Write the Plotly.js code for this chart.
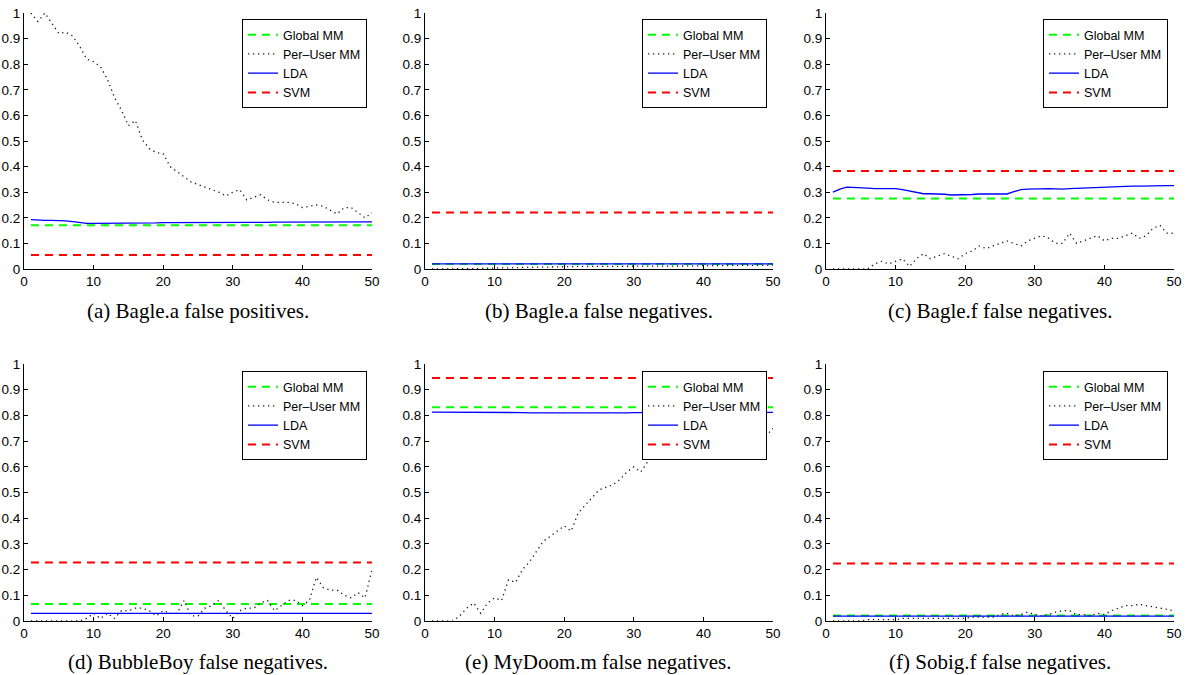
<!DOCTYPE html>
<html>
<head>
<meta charset="utf-8">
<script src="https://cdn.plot.ly/plotly-3.0.1.min.js"></script>
<style>html,body{margin:0;padding:0;background:#fff;}#chart{width:1187px;height:675px;}</style>
</head>
<body>
<div id="chart"></div>
<script>
// ---- data ----
const runs = [1,2,3,4,5,6,7,8,9,10,11,12,13,14,15,16,17,18,19,20,21,22,23,24,25,26,27,28,29,30,31,32,33,34,35,36,37,38,39,40,41,42,43,44,45,46,47,48,49,50];
const seriesNames = ["Global MM", "Per\u2013User MM", "LDA", "SVM"];
const captions = ["(a) Bagle.a false positives.", "(b) Bagle.a false negatives.", "(c) Bagle.f false negatives.",
                  "(d) BubbleBoy false negatives.", "(e) MyDoom.m false negatives.", "(f) Sobig.f false negatives."];
const xTicks = [0,10,20,30,40,50];
const yTicks = [0,0.1,0.2,0.3,0.4,0.5,0.6,0.7,0.8,0.9,1];

// constant-rate methods, one value per panel
const globalMM = [0.171, 0.020, 0.275, 0.066, 0.832, 0.021];
const svm      = [0.055, 0.221, 0.383, 0.228, 0.946, 0.224];

// per-user MM, one array per panel
const perUserA = [1.00,0.967,1.00,0.96,0.92,0.925,0.91,0.87,0.82,0.81,
                  0.79,0.74,0.67,0.62,0.56,0.58,0.505,0.47,0.455,0.45,
                  0.40,0.38,0.36,0.34,0.33,0.32,0.31,0.30,0.285,0.30,
                  0.31,0.27,0.28,0.29,0.27,0.26,0.26,0.26,0.255,0.24,
                  0.245,0.25,0.245,0.23,0.215,0.24,0.24,0.22,0.20,0.22];
const perUserB = [0,0,0,0,0,0,0.002,0.002,0.003,0.004,
                  0.004,0.005,0.005,0.006,0.006,0.007,0.007,0.008,0.008,0.009,
                  0.01,0.01,0.01,0.01,0.01,0.01,0.01,0.01,0.011,0.011,
                  0.011,0.011,0.011,0.012,0.012,0.012,0.012,0.012,0.012,0.013,
                  0.013,0.013,0.013,0.013,0.014,0.014,0.014,0.014,0.015,0.015];
const perUserC = [0,0,0,0,0,0,0.02,0.03,0.02,0.03,
                  0.04,0.01,0.04,0.06,0.04,0.05,0.06,0.05,0.04,0.06,
                  0.07,0.09,0.08,0.09,0.10,0.11,0.10,0.09,0.11,0.12,
                  0.13,0.12,0.10,0.10,0.14,0.10,0.11,0.12,0.13,0.11,
                  0.12,0.12,0.13,0.14,0.12,0.13,0.16,0.17,0.14,0.14];
const perUserD = [0,0,0,0,0,0,0,0,0.01,0.03,
                  0.01,0.03,0.01,0.04,0.04,0.05,0.05,0.04,0.02,0.04,
                  0.03,0.03,0.08,0.02,0.02,0.05,0.06,0.08,0.04,0.01,
                  0.04,0.05,0.05,0.07,0.08,0.04,0.06,0.08,0.08,0.06,
                  0.08,0.17,0.13,0.12,0.12,0.10,0.09,0.11,0.09,0.20];
const perUserE = [0,0,0,0,0.02,0.05,0.07,0.03,0.07,0.09,
                  0.08,0.16,0.15,0.20,0.23,0.27,0.31,0.33,0.35,0.37,
                  0.35,0.42,0.45,0.48,0.51,0.52,0.53,0.55,0.58,0.60,
                  0.58,0.62,0.65,0.64,0.65,0.66,0.66,0.66,0.67,0.68,
                  0.69,0.71,0.70,0.69,0.70,0.71,0.71,0.71,0.72,0.75];
const perUserF = [0,0,0,0,0,0.005,0.005,0.005,0.005,0.005,
                  0.01,0.01,0.01,0.01,0.01,0.01,0.01,0.01,0.01,0.01,
                  0.015,0.015,0.015,0.015,0.025,0.03,0.02,0.025,0.035,0.025,
                  0.02,0.025,0.035,0.04,0.04,0.025,0.025,0.02,0.03,0.025,
                  0.04,0.05,0.06,0.06,0.065,0.06,0.055,0.05,0.045,0.04];

// LDA, one array per panel
const ldaA = [0.193,0.191,0.190,0.190,0.190,0.188,0.185,0.181,0.178,0.178,
              0.178,0.179,0.179,0.179,0.179,0.179,0.180,0.180,0.180,0.181,
              0.181,0.181,0.180,0.180,0.180,0.181,0.181,0.181,0.181,0.181,
              0.181,0.182,0.182,0.182,0.182,0.183,0.183,0.183,0.183,0.183,
              0.183,0.183,0.183,0.183,0.184,0.184,0.184,0.184,0.184,0.184];
const ldaB = [0.020,0.020,0.020,0.020,0.020,0.020,0.020,0.020,0.020,0.020,
              0.020,0.020,0.020,0.020,0.020,0.020,0.020,0.020,0.020,0.020,
              0.020,0.020,0.020,0.020,0.020,0.020,0.020,0.020,0.020,0.020,
              0.020,0.020,0.020,0.020,0.020,0.020,0.020,0.020,0.020,0.020,
              0.020,0.020,0.020,0.020,0.020,0.020,0.020,0.020,0.020,0.020];
const ldaC = [0.300,0.312,0.320,0.319,0.319,0.316,0.314,0.314,0.316,0.314,
              0.310,0.305,0.300,0.294,0.294,0.294,0.292,0.289,0.289,0.290,
              0.291,0.293,0.293,0.293,0.293,0.293,0.302,0.310,0.312,0.313,
              0.313,0.314,0.313,0.312,0.314,0.315,0.317,0.319,0.320,0.322,
              0.322,0.323,0.323,0.324,0.324,0.325,0.325,0.325,0.326,0.326];
const ldaD = [0.030,0.030,0.030,0.030,0.030,0.030,0.030,0.030,0.030,0.030,
              0.030,0.030,0.030,0.030,0.030,0.030,0.030,0.030,0.030,0.030,
              0.030,0.030,0.030,0.030,0.030,0.030,0.030,0.030,0.030,0.030,
              0.030,0.030,0.030,0.030,0.030,0.030,0.030,0.030,0.030,0.030,
              0.030,0.030,0.030,0.030,0.030,0.030,0.030,0.030,0.030,0.030];
const ldaE = [0.813,0.813,0.813,0.812,0.812,0.812,0.812,0.812,0.813,0.812,
              0.812,0.811,0.811,0.811,0.810,0.810,0.809,0.808,0.808,0.808,
              0.808,0.808,0.808,0.809,0.809,0.809,0.810,0.810,0.810,0.811,
              0.811,0.811,0.811,0.811,0.811,0.811,0.811,0.811,0.811,0.811,
              0.811,0.811,0.811,0.811,0.811,0.812,0.812,0.812,0.812,0.812];
const ldaF = [0.019,0.019,0.019,0.019,0.019,0.019,0.019,0.019,0.019,0.019,
              0.019,0.019,0.019,0.019,0.019,0.019,0.019,0.019,0.019,0.019,
              0.019,0.019,0.019,0.019,0.019,0.019,0.019,0.019,0.019,0.019,
              0.019,0.019,0.019,0.019,0.019,0.019,0.019,0.019,0.019,0.019,
              0.019,0.019,0.019,0.019,0.019,0.019,0.019,0.019,0.019,0.019];

const perUser = [perUserA, perUserB, perUserC, perUserD, perUserE, perUserF];
const lda = [ldaA, ldaB, ldaC, ldaD, ldaE, ldaF];

// ---- layout geometry (pixels of the 1187x675 page) ----
const W = 1187, H = 675;
const colX = [[24,372],[425,773],[826,1174]];
const rowY = [[13,269],[364,621]];
const legendRight = [367, 767, 1168];
const legendTop = [19, 371];
const captionY = [311, 662];

const traces = [];
const layout = {
  width: W, height: H,
  margin: {l:0, r:0, t:0, b:0},
  paper_bgcolor: '#ffffff', plot_bgcolor: '#ffffff',
  font: {family: 'Liberation Sans, Arial, sans-serif', color: '#000', size: 13.5},
  showlegend: true,
  annotations: []
};

for (let p = 0; p < 6; p++) {
  const col = p % 3, row = Math.floor(p / 3);
  const n = p + 1;
  const xa = 'xaxis' + (n === 1 ? '' : n), ya = 'yaxis' + (n === 1 ? '' : n);
  const xr = 'x' + (n === 1 ? '' : n), yr = 'y' + (n === 1 ? '' : n);
  const lg = 'legend' + (n === 1 ? '' : n);
  const axCommon = {
    showgrid: false, zeroline: false, showline: true, linecolor: '#000', linewidth: 1,
    ticks: 'inside', ticklen: 4, tickcolor: '#000', tickwidth: 1, mirror: false,
    tickfont: {family: 'Liberation Sans, Arial, sans-serif', size: 13.5, color: '#000'},
    fixedrange: true
  };
  layout[xa] = Object.assign({}, axCommon, {
    domain: [colX[col][0] / W, colX[col][1] / W], anchor: yr, range: [0, 50],
    tickmode: 'array', tickvals: xTicks, ticktext: xTicks.map(String)
  });
  layout[ya] = Object.assign({}, axCommon, {
    domain: [1 - rowY[row][1] / H, 1 - rowY[row][0] / H], anchor: xr, range: [0, 1],
    tickmode: 'array', tickvals: yTicks, ticktext: yTicks.map(String)
  });
  layout[lg] = {
    x: legendRight[col] / W, y: 1 - legendTop[row] / H, xanchor: 'right', yanchor: 'top',
    xref: 'paper', yref: 'paper',
    bgcolor: '#ffffff', bordercolor: '#000', borderwidth: 1,
    font: {family: 'Liberation Sans, Arial, sans-serif', size: 12.5, color: '#000'},
    traceorder: 'normal', tracegroupgap: 0
  };
  const base = {type: 'scatter', mode: 'lines', xaxis: xr, yaxis: yr, legend: lg, hoverinfo: 'skip'};
  traces.push(Object.assign({}, base, {
    name: seriesNames[0], x: [runs[0], runs[runs.length-1]], y: [globalMM[p], globalMM[p]],
    line: {color: '#00ff00', width: 2, dash: '8px,6px'}
  }));
  traces.push(Object.assign({}, base, {
    name: seriesNames[1], x: runs, y: perUser[p],
    line: {color: '#1a1a1a', width: 1.3, dash: '1.3px,3.7px'}
  }));
  traces.push(Object.assign({}, base, {
    name: seriesNames[2], x: runs, y: lda[p],
    line: {color: '#0000ff', width: 1.3}
  }));
  traces.push(Object.assign({}, base, {
    name: seriesNames[3], x: [runs[0], runs[runs.length-1]], y: [svm[p], svm[p]],
    line: {color: '#ff0000', width: 2, dash: '8px,6px'}
  }));
  layout.annotations.push({
    text: captions[p], xref: 'paper', yref: 'paper',
    x: (colX[col][0] + colX[col][1]) / 2 / W, y: 1 - captionY[row] / H,
    xanchor: 'center', yanchor: 'middle', showarrow: false,
    font: {family: 'Liberation Serif, Times New Roman, serif', size: 21, color: '#000'}
  });
}

Plotly.newPlot('chart', traces, layout, {displayModeBar: false, staticPlot: true});
</script>
</body>
</html>
